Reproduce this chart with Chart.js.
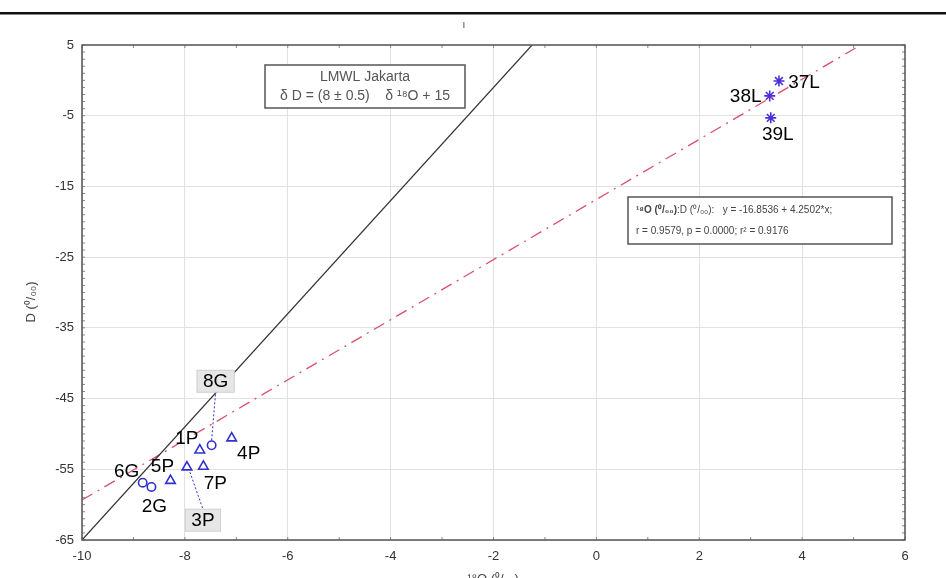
<!DOCTYPE html>
<html>
<head>
<meta charset="utf-8">
<script src="https://cdn.jsdelivr.net/npm/chart.js@4.4.0/dist/chart.umd.min.js"></script>
<style>
  html, body { margin: 0; padding: 0; background: #fff; }
  #wrap { position: relative; width: 946px; height: 578px; overflow: hidden; }
</style>
</head>
<body>
<div id="wrap"><canvas id="isoChart" width="946" height="578"></canvas></div>
<script>
// 축 눈금
const xTicks = [-10, -8, -6, -4, -2, 0, 2, 4, 6];
const yTicks = [-65, -55, -45, -35, -25, -15, -5, 5];

// 시료 (δ18O, δD)
const lakeNames = ['37L', '38L', '39L'];
const lakeX = [3.55, 3.37, 3.39];
const lakeY = [-0.1, -2.2, -5.3];

const groundNames = ['6G', '2G', '8G'];
const groundX = [-8.82, -8.65, -7.48];
const groundY = [-56.9, -57.5, -51.6];

const rainNames = ['4P', '1P', '7P', '3P', '5P'];
const rainX = [-7.09, -7.71, -7.64, -7.96, -8.28];
const rainY = [-50.6, -52.3, -54.6, -54.7, -56.6];

// 선 양 끝점
const lmwlX = [-10, -1.25];
const lmwlY = [-65, 5];
const regX = [-10, 5.14];
const regY = [-59.35, 5];

// 라벨 위치 (점 기준 픽셀 오프셋), boxed = 회색 상자
const labelOffsets = {
    '37L': [25, 1], '38L': [-24, 0], '39L': [7, 16],
    '6G': [-16, -12], '2G': [3, 19], '8G': [4, -64, true],
    '4P': [17, 15], '1P': [-13, -12], '7P': [12, 16], '3P': [16, 53, true], '5P': [-8, -15]
};

const blue = '#3030d0';
const toPts = (xs, ys) => xs.map((x, i) => ({ x: x, y: ys[i] }));

const annotate = {
    id: 'annotate',
    beforeDraw(chart) {
        const c = chart.ctx;
        c.save();
        c.fillStyle = '#fff';
        c.fillRect(0, 0, chart.width, chart.height);
        c.restore();
    },
    afterDraw(chart) {
        const c = chart.ctx;
        const xs = chart.scales.x, ys = chart.scales.y;
        const a = chart.chartArea;
        c.save();

        // 페이지 상단 선
        c.fillStyle = '#111';
        c.fillRect(0, 12, chart.width, 2);
        c.fillStyle = '#888';
        c.fillRect(0, 14, chart.width, 1);
        c.fillStyle = '#444';
        c.font = '10px "Liberation Sans", Arial';
        c.textAlign = 'center';
        c.fillText('ı', 464, 28);

        // 작은 눈금
        c.lineWidth = 1;
        c.strokeStyle = '#888';
        c.beginPath();
        for (let v = -10; v <= 6; v++) {
            const px = xs.getPixelForValue(v);
            c.moveTo(px, a.bottom - 3); c.lineTo(px, a.bottom);
            c.moveTo(px, a.top); c.lineTo(px, a.top + 3);
        }
        for (let v = -65; v <= 5; v++) {
            const py = ys.getPixelForValue(v);
            c.moveTo(a.left, py); c.lineTo(a.left + 3, py);
            c.moveTo(a.right - 3, py); c.lineTo(a.right, py);
        }
        c.stroke();

        // 틀
        c.strokeStyle = '#555';
        c.lineWidth = 1.5;
        c.strokeRect(a.left, a.top, a.right - a.left, a.bottom - a.top);

        // 축 제목
        c.fillStyle = '#444';
        c.font = '13px "Liberation Sans", Arial';
        c.save();
        c.translate(31, 302);
        c.rotate(-Math.PI / 2);
        c.textAlign = 'center';
        c.textBaseline = 'middle';
        c.fillText('D (⁰/₀₀)', 0, 0);
        c.restore();
        c.textAlign = 'center';
        c.textBaseline = 'top';
        c.fillText('¹⁸O (⁰/₀₀)', 493, 573);

        // LMWL 상자
        c.strokeStyle = '#555';
        c.lineWidth = 1.5;
        c.fillStyle = '#fff';
        c.fillRect(265, 65, 200, 43);
        c.strokeRect(265, 65, 200, 43);
        c.fillStyle = '#555';
        c.font = '14px "Liberation Sans", Arial';
        c.textBaseline = 'middle';
        c.fillText('LMWL Jakarta', 365, 77);
        c.fillText('δ D = (8 ± 0.5)    δ ¹⁸O + 15', 365, 96);

        // 회귀식 상자
        c.fillStyle = '#fff';
        c.fillRect(628, 197, 264, 47);
        c.strokeRect(628, 197, 264, 47);
        c.fillStyle = '#444';
        c.textAlign = 'left';
        c.font = 'bold 10px "Liberation Sans", Arial';
        c.fillText('¹⁸O (⁰/₀₀)', 636, 210);
        const w1 = c.measureText('¹⁸O (⁰/₀₀)').width;
        c.font = '10px "Liberation Sans", Arial';
        c.fillText(':D (⁰/₀₀):   y = -16.8536 + 4.2502*x;', 636 + w1, 210);
        c.fillText('r = 0.9579, p = 0.0000; r² = 0.9176', 636, 231);

        // 점 라벨
        c.font = '19px "Liberation Sans", Arial';
        c.textAlign = 'center';
        c.textBaseline = 'middle';
        const groups = [[lakeNames, lakeX, lakeY], [groundNames, groundX, groundY], [rainNames, rainX, rainY]];
        groups.forEach(([names, gx, gy]) => {
            names.forEach((name, i) => {
                const off = labelOffsets[name];
                const px = xs.getPixelForValue(gx[i]);
                const py = ys.getPixelForValue(gy[i]);
                const lx = px + off[0], ly = py + off[1];
                if (off[2]) {
                    const w = c.measureText(name).width + 12;
                    const h = 22;
                    // 점선 지시선
                    c.save();
                    c.strokeStyle = blue;
                    c.lineWidth = 1;
                    c.setLineDash([2, 2]);
                    c.beginPath();
                    const edge = off[1] < 0 ? ly + h / 2 : ly - h / 2;
                    const startY = off[1] < 0 ? py - 5 : py + 5;
                    c.moveTo(px + (off[1] < 0 ? 0 : 3), startY);
                    c.lineTo(lx, edge);
                    c.stroke();
                    c.restore();
                    c.fillStyle = '#e6e6e6';
                    c.fillRect(lx - w / 2, ly - h / 2, w, h);
                    c.strokeStyle = '#cfcfcf';
                    c.lineWidth = 1;
                    c.strokeRect(lx - w / 2, ly - h / 2, w, h);
                }
                c.fillStyle = '#000';
                c.fillText(name, lx, ly + 1);
            });
        });
        c.restore();
    }
};

new Chart(document.getElementById('isoChart'), {
    type: 'scatter',
    data: {
        datasets: [
            {
                type: 'line', label: 'LMWL', data: toPts(lmwlX, lmwlY),
                borderColor: '#333', borderWidth: 1.2, pointRadius: 0, fill: false
            },
            {
                type: 'line', label: 'regression', data: toPts(regX, regY),
                borderColor: '#d9506a', borderWidth: 1.3, borderDash: [12, 6, 2, 6],
                pointRadius: 0, fill: false
            },
            {
                label: 'L', data: toPts(lakeX, lakeY), pointStyle: 'star',
                pointRadius: 5.5, borderColor: '#4a2fd8', borderWidth: 1.6, backgroundColor: 'transparent'
            },
            {
                label: 'G', data: toPts(groundX, groundY), pointStyle: 'circle',
                pointRadius: 4.2, borderColor: blue, borderWidth: 1.6, backgroundColor: 'transparent'
            },
            {
                label: 'P', data: toPts(rainX, rainY), pointStyle: 'triangle',
                pointRadius: 5.5, borderColor: blue, borderWidth: 1.6, backgroundColor: 'transparent'
            }
        ]
    },
    options: {
        responsive: false,
        animation: false,
        layout: { padding: { top: 45, right: 41, left: 0, bottom: 0 } },
        plugins: { legend: { display: false }, tooltip: { enabled: false } },
        scales: {
            x: {
                type: 'linear', min: -10, max: 6,
                afterBuildTicks: s => { s.ticks = xTicks.map(v => ({ value: v })); },
                afterFit: s => { s.height = 38; },
                grid: { color: '#e2e2e2', drawTicks: false },
                border: { display: false },
                ticks: { padding: 9, color: '#333', font: { family: '"Liberation Sans", Arial', size: 13 } }
            },
            y: {
                type: 'linear', min: -65, max: 5,
                afterBuildTicks: s => { s.ticks = yTicks.map(v => ({ value: v })); },
                afterFit: s => { s.width = 82; },
                grid: { color: '#e2e2e2', drawTicks: false },
                border: { display: false },
                ticks: { padding: 8, color: '#333', font: { family: '"Liberation Sans", Arial', size: 13 } }
            }
        }
    },
    plugins: [annotate]
});
</script>
</body>
</html>
